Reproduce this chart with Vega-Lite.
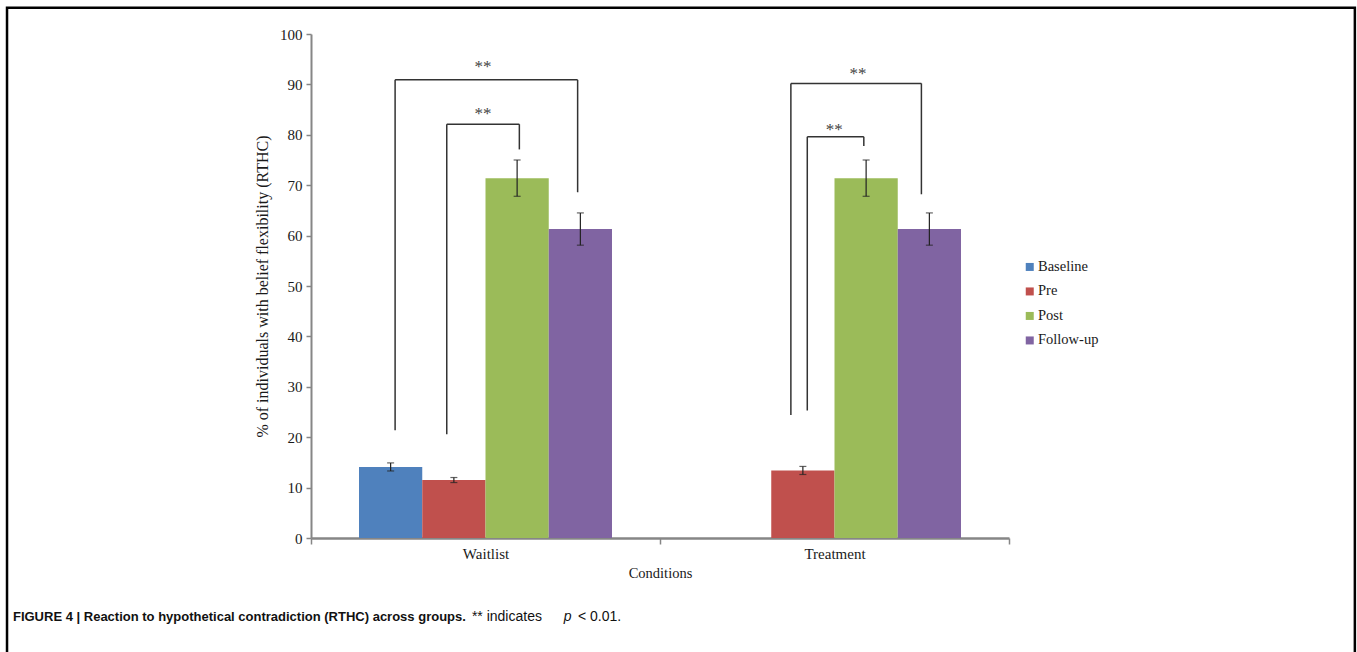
{
  "$schema": "https://vega.github.io/schema/vega-lite/v6.json",
  "width": 698,
  "height": 504,
  "autosize": "none",
  "padding": {"left": 311, "top": 34, "right": 348, "bottom": 114},
  "background": "white",
  "config": {
    "view": {"stroke": null},
    "font": "Liberation Serif",
    "axisY": {
      "domainColor": "#868686", "domainWidth": 2, "tickColor": "#868686", "tickWidth": 1.5, "tickSize": 5,
      "labelFont": "Liberation Serif", "labelFontSize": 15, "labelColor": "#1a1a1a", "labelPadding": 4,
      "titleFont": "Liberation Serif", "titleFontSize": 16, "titleFontWeight": "normal", "titleColor": "#1a1a1a", "titlePadding": 9,
      "grid": false
    },
    "axisX": {
      "domainColor": "#868686", "domainWidth": 2.5, "tickColor": "#868686", "tickWidth": 1.5, "tickSize": 6,
      "labelFont": "Liberation Serif", "labelFontSize": 15, "labelColor": "#1a1a1a", "labelPadding": 2, "labelAngle": 0,
      "titleFont": "Liberation Serif", "titleFontSize": 14.5, "titleFontWeight": "normal", "titleColor": "#1a1a1a", "titlePadding": 5,
      "grid": false, "tickBand": "extent"
    }
  },
  "datasets": {
    "bars": [
      {"condition": "Waitlist", "time": "Baseline", "pct": 14.1, "lo": 13.3, "hi": 14.9},
      {"condition": "Waitlist", "time": "Pre", "pct": 11.5, "lo": 11.0, "hi": 12.0},
      {"condition": "Waitlist", "time": "Post", "pct": 71.4, "lo": 67.8, "hi": 75.0},
      {"condition": "Waitlist", "time": "Follow-up", "pct": 61.3, "lo": 58.1, "hi": 64.5},
      {"condition": "Treatment", "time": "Pre", "pct": 13.4, "lo": 12.6, "hi": 14.2},
      {"condition": "Treatment", "time": "Post", "pct": 71.4, "lo": 67.8, "hi": 75.0},
      {"condition": "Treatment", "time": "Follow-up", "pct": 61.3, "lo": 58.1, "hi": 64.5}
    ],
    "brackets": [
      {"x": 0.241, "x2": 0.241, "y": 21.4, "y2": 90.9},
      {"x": 0.241, "x2": 0.764, "y": 90.9, "y2": 90.9},
      {"x": 0.764, "x2": 0.764, "y": 90.9, "y2": 68.6},
      {"x": 0.389, "x2": 0.389, "y": 20.6, "y2": 82.1},
      {"x": 0.389, "x2": 0.597, "y": 82.1, "y2": 82.1},
      {"x": 0.597, "x2": 0.597, "y": 82.1, "y2": 77.1},
      {"x": 1.375, "x2": 1.375, "y": 24.4, "y2": 90.2},
      {"x": 1.375, "x2": 1.749, "y": 90.2, "y2": 90.2},
      {"x": 1.749, "x2": 1.749, "y": 90.2, "y2": 68.2},
      {"x": 1.422, "x2": 1.422, "y": 25.3, "y2": 79.6},
      {"x": 1.422, "x2": 1.584, "y": 79.6, "y2": 79.6},
      {"x": 1.584, "x2": 1.584, "y": 79.6, "y2": 77.8}
    ],
    "stars": [
      {"x": 0.493, "y": 93.4, "t": "**"},
      {"x": 0.493, "y": 84.1, "t": "**"},
      {"x": 1.567, "y": 92.0, "t": "**"},
      {"x": 1.499, "y": 80.9, "t": "**"}
    ],
    "frame": [
      {"x": -0.871, "x2": 2.991, "y": 105.2, "y2": -24.5}
    ],
    "capBold": [
      {"x": -0.854, "y": -15.7, "t": "FIGURE 4 | Reaction to hypothetical contradiction (RTHC) across groups."}
    ],
    "capNormal": [
      {"x": 0.461, "y": -15.7, "t": "** indicates"},
      {"x": 0.765, "y": -15.7, "t": "< 0.01."}
    ],
    "capItalic": [
      {"x": 0.724, "y": -15.7, "t": "p"}
    ]
  },
  "layer": [
    {
      "layer": [
        {
          "data": {"name": "bars"},
          "mark": {"type": "bar"},
          "encoding": {
            "x": {"field": "condition", "type": "nominal", "sort": ["Waitlist", "Treatment"],
                  "scale": {"domain": ["Waitlist", "Treatment"], "paddingInner": 0, "paddingOuter": 0},
                  "title": "Conditions"},
            "xOffset": {"field": "time", "type": "nominal",
                        "scale": {"domain": ["Baseline", "Pre", "Post", "Follow-up"], "paddingInner": 0, "paddingOuter": 0.759}},
            "y": {"field": "pct", "type": "quantitative",
                  "scale": {"domain": [0, 100], "nice": false, "zero": false},
                  "axis": {"values": [0, 10, 20, 30, 40, 50, 60, 70, 80, 90, 100]},
                  "title": "% of individuals with belief flexibility (RTHC)"},
            "color": {"field": "time", "type": "nominal",
                      "scale": {"domain": ["Baseline", "Pre", "Post", "Follow-up"], "range": ["#4F81BD", "#C0504D", "#9BBB59", "#8064A2"]},
                      "legend": {"title": null, "orient": "none", "legendX": 711.5, "legendY": 225.7,
                                 "symbolType": "square", "symbolSize": 64, "symbolStrokeWidth": 0,
                                 "labelFont": "Liberation Serif", "labelFontSize": 14.5, "labelColor": "#1a1a1a",
                                 "rowPadding": 9.5, "labelOffset": 1, "padding": 0}}
          }
        },
        {
          "data": {"name": "bars"},
          "mark": {"type": "rule", "color": "#222222", "strokeWidth": 1.2},
          "encoding": {
            "x": {"field": "condition", "type": "nominal", "title": "Conditions"},
            "xOffset": {"field": "time", "type": "nominal"},
            "y": {"field": "lo", "type": "quantitative", "title": "% of individuals with belief flexibility (RTHC)"},
            "y2": {"field": "hi"}
          }
        },
        {
          "data": {"name": "bars"},
          "mark": {"type": "tick", "color": "#222222", "thickness": 1.2, "size": 7, "orient": "horizontal"},
          "encoding": {
            "x": {"field": "condition", "type": "nominal", "title": "Conditions"},
            "xOffset": {"field": "time", "type": "nominal"},
            "y": {"field": "lo", "type": "quantitative", "title": "% of individuals with belief flexibility (RTHC)"}
          }
        },
        {
          "data": {"name": "bars"},
          "mark": {"type": "tick", "color": "#222222", "thickness": 1.2, "size": 7, "orient": "horizontal"},
          "encoding": {
            "x": {"field": "condition", "type": "nominal", "title": "Conditions"},
            "xOffset": {"field": "time", "type": "nominal"},
            "y": {"field": "hi", "type": "quantitative", "title": "% of individuals with belief flexibility (RTHC)"}
          }
        }
      ]
    },
    {
      "layer": [
        {
          "data": {"name": "brackets"},
          "mark": {"type": "rule", "color": "#333333", "strokeWidth": 1.5},
          "encoding": {
            "x": {"field": "x", "type": "quantitative", "scale": {"domain": [0, 2], "nice": false, "zero": false}, "axis": null},
            "x2": {"field": "x2"},
            "y": {"field": "y", "type": "quantitative", "title": "% of individuals with belief flexibility (RTHC)"},
            "y2": {"field": "y2"}
          }
        },
        {
          "data": {"name": "stars"},
          "mark": {"type": "text", "font": "Liberation Serif", "fontSize": 17, "color": "#444444", "baseline": "middle", "align": "center"},
          "encoding": {
            "x": {"field": "x", "type": "quantitative", "axis": null},
            "y": {"field": "y", "type": "quantitative", "title": "% of individuals with belief flexibility (RTHC)"},
            "text": {"field": "t"}
          }
        },
        {
          "data": {"name": "frame"},
          "mark": {"type": "rect", "fill": null, "fillOpacity": 0, "stroke": "#000000", "strokeWidth": 2.5},
          "encoding": {
            "x": {"field": "x", "type": "quantitative", "axis": null},
            "x2": {"field": "x2"},
            "y": {"field": "y", "type": "quantitative", "title": "% of individuals with belief flexibility (RTHC)"},
            "y2": {"field": "y2"}
          }
        },
        {
          "data": {"name": "capBold"},
          "mark": {"type": "text", "font": "Liberation Sans", "fontSize": 13, "fontWeight": "bold", "color": "#111111", "baseline": "middle", "align": "left"},
          "encoding": {
            "x": {"field": "x", "type": "quantitative", "axis": null},
            "y": {"field": "y", "type": "quantitative", "title": "% of individuals with belief flexibility (RTHC)"},
            "text": {"field": "t"}
          }
        },
        {
          "data": {"name": "capNormal"},
          "mark": {"type": "text", "font": "Liberation Sans", "fontSize": 14, "color": "#111111", "baseline": "middle", "align": "left"},
          "encoding": {
            "x": {"field": "x", "type": "quantitative", "axis": null},
            "y": {"field": "y", "type": "quantitative", "title": "% of individuals with belief flexibility (RTHC)"},
            "text": {"field": "t"}
          }
        },
        {
          "data": {"name": "capItalic"},
          "mark": {"type": "text", "font": "Liberation Sans", "fontSize": 14, "fontStyle": "italic", "color": "#111111", "baseline": "middle", "align": "left"},
          "encoding": {
            "x": {"field": "x", "type": "quantitative", "axis": null},
            "y": {"field": "y", "type": "quantitative", "title": "% of individuals with belief flexibility (RTHC)"},
            "text": {"field": "t"}
          }
        }
      ]
    }
  ],
  "resolve": {"scale": {"x": "independent"}}
}
